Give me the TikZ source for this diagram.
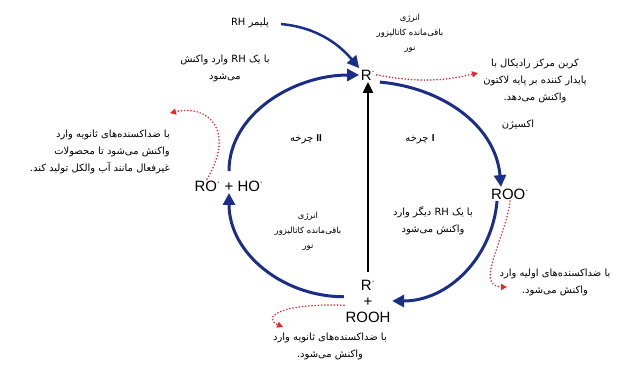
\documentclass[tikz,border=0pt]{standalone}
\usepackage{fontspec}
\setmainfont{Liberation Sans}
\newfontfamily\persianfont[Script=Arabic]{DejaVu Sans}
\TeXXeTstate=1
\usepackage{xcolor}
\usetikzlibrary{arrows.meta}
\definecolor{cyclenavy}{RGB}{26,46,136}
\definecolor{sidered}{RGB}{226,42,42}
\newcommand{\rad}{$^{\cdot}$}
\newcommand{\cycnum}[1]{{\normalfont\bfseries #1}}

\begin{document}
\begin{tikzpicture}[x=1bp,y=1bp,
    species/.style={font=\fontsize{15}{16}\selectfont, inner sep=1.5pt},
    note/.style={font=\persianfont\fontsize{10}{17}\selectfont, align=center, inner sep=0pt},
    small note/.style={note, font=\persianfont\fontsize{8.5}{15}\selectfont},
    cycle arrow/.style={draw=cyclenavy, line width=3pt, -{Triangle[length=12pt,width=12pt]}},
    side arrow/.style={draw=sidered, line width=1.8pt, line cap=round, dash pattern=on 0pt off 3.2pt, -{Triangle[length=6pt,width=6pt]}}]
    \useasboundingbox (0,0) rectangle (638,-367);

    % Species on the cycle
    \node[species] (r1) at (368,-75) {R\rad};
    \node[species] (roo) at (510,-194) {ROO\rad};
    \node[species, align=center] (rr) at (368,-301) {R\rad\\+\\ROOH};
    \node[species] (ro) at (229,-186) {RO\rad\ + HO\rad};

    % Notes
    \node[note] (rh) at (250,-23) {\beginR پلیمر RH\endR};
    \node[note] (rhnote) at (225,-68) {\beginR با یک RH وارد واکنش\endR\\\beginR می‌شود\endR};
    \node[small note] (energytop) at (410,-33) {\beginR انرژی\endR\\\beginR باقی‌مانده کاتالیزور\endR\\\beginR نور\endR};
    \node[note] (lactone) at (535,-81) {\beginR کربن مرکز رادیکال با\endR\\\beginR پایدار کننده بر پایه لاکتون\endR\\\beginR واکنش می‌دهد.\endR};
    \node[note] (oxygen) at (518,-125) {\beginR اکسیژن\endR};
    \node[note] (cyc2) at (306,-139) {چرخه \cycnum{II}};
    \node[note] (cyc1) at (420,-139) {چرخه \cycnum{I}};
    \node[note, align=right, anchor=east] (secondary) at (170,-152) {\beginR با ضداکسنده‌های ثانویه وارد\endR\\\beginR واکنش می‌شود تا محصولات\endR\\\beginR غیرفعال مانند آب والکل تولید کند.\endR};
    \node[small note] (energymid) at (308,-231) {\beginR انرژی\endR\\\beginR باقی‌مانده کاتالیزور\endR\\\beginR نور\endR};
    \node[note] (roonote) at (433,-221) {\beginR با یک RH دیگر وارد\endR\\\beginR واکنش می‌شود\endR};
    \node[note] (primary) at (555,-282) {\beginR با ضداکسنده‌های اولیه وارد\endR\\\beginR واکنش می‌شود.\endR};
    \node[note] (bottomnote) at (330,-346) {\beginR با ضداکسنده‌های ثانویه وارد\endR\\\beginR واکنش می‌شود.\endR};

    % Free ends of the side reactions
    \coordinate (tipa) at (478,-73);
    \coordinate (tipb) at (507,-287);
    \coordinate (tipc) at (283,-327);
    \coordinate (tipd) at (170,-113);

    % Cycle arcs
    \draw[cycle arrow, shorten <=3pt] (r1.south east) to[out=-5,in=95] ([xshift=-9pt]roo.north);
    \draw[cycle arrow] ([xshift=-13pt]roo.south) to[out=-95,in=0] (rr.east);
    \draw[cycle arrow] (rr.170) to[out=180,in=-90] (ro.south);
    \draw[cycle arrow, shorten <=8pt] (ro.north) to[out=90,in=180] (r1.west);
    \draw[cycle arrow, line width=2.5pt, shorten <=12pt] (rh.east) to[out=-5,in=130] (r1.north west);

    % Direct path
    \draw[line width=2.6pt, -{Triangle[length=11pt,width=10pt]}, shorten <=6pt] (rr.north) -- (r1.south);

    % Side reactions
    \draw[side arrow] (r1.east) to[out=-10,in=193] (tipa);
    \draw[side arrow] (roo.south) to[out=-95,in=180] (tipb);
    \draw[side arrow] (rr.190) .. controls (278,-303) and (262,-318) .. (tipc);
    \draw[side arrow] ([xshift=-22pt]ro.north) .. controls (236,-130) and (208,-104) .. (tipd);
\end{tikzpicture}
\end{document}
